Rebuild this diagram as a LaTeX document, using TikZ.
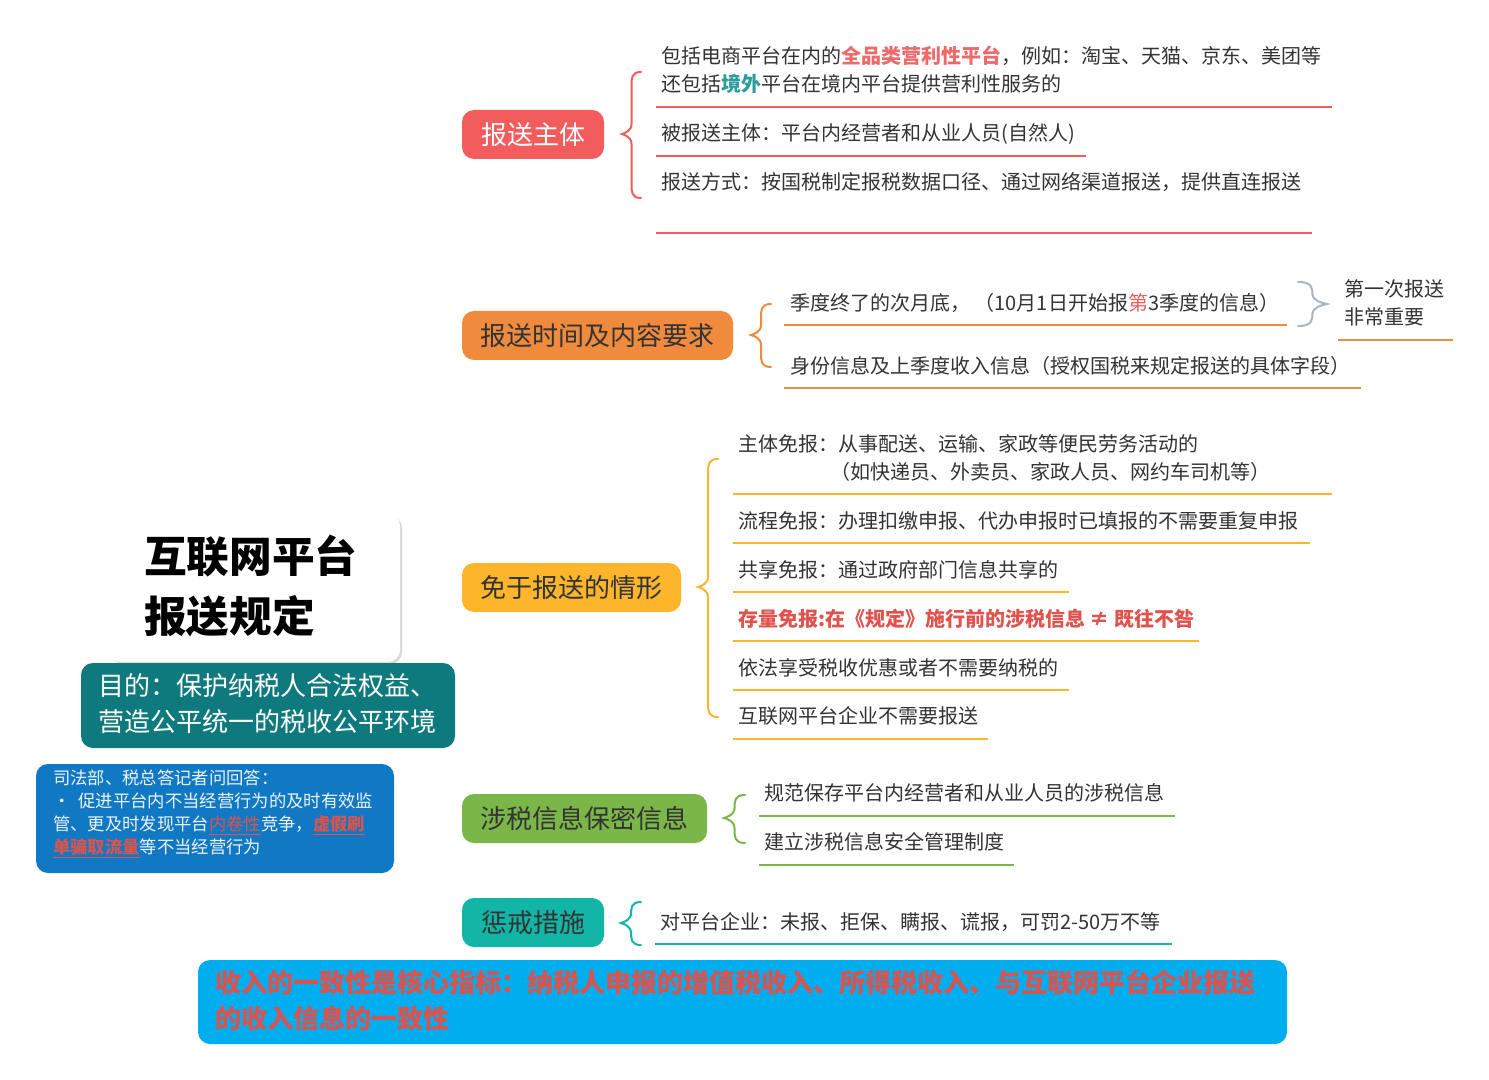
\documentclass[tikz,border=0pt]{standalone}
\usepackage{fontspec}
\setmainfont{Noto Sans CJK SC}
\usetikzlibrary{backgrounds,shadows}
\definecolor{cred}{HTML}{F25C5C}
\definecolor{corange}{HTML}{F08A3C}
\definecolor{cyellow}{HTML}{FDB52C}
\definecolor{cgreen}{HTML}{7AB648}
\definecolor{cteal}{HTML}{12B5A6}
\definecolor{cdeep}{HTML}{0F7A7D}
\definecolor{cblue}{HTML}{1179C4}
\definecolor{ccyan}{HTML}{00ADEF}
\definecolor{cgrey}{HTML}{A9B5C9}
\definecolor{ink}{HTML}{333333}
\definecolor{hired}{HTML}{EE6A6A}
\definecolor{hiteal}{HTML}{2E9C9C}
\definecolor{hidark}{HTML}{E0524D}
\definecolor{dull}{HTML}{D9534F}
\def\px{0.75pt}
\tikzset{
  branch/.style={rounded corners=9pt,inner sep=0pt,text=ink,font=\fontsize{19.5}{24}\selectfont},
  item/.style={anchor=west,inner sep=0pt,align=left,text=ink,font=\fontsize{15}{21}\selectfont},
  panel/.style={rounded corners=9pt,inner sep=0pt},
  conn/.style={line width=3pt,line cap=round},
  rule/.style={line width=2pt},
  curl/.style={line width=1.5pt,line cap=round}
}
% \ruleline{name}{x1}{x2}{y}{colour}
\newcommand{\ruleline}[5]{%
  \coordinate (#1a) at (#2,#4);
  \coordinate (#1b) at (#3,#4);
  \draw[rule,#5] (#1a) -- (#1b);}
% \curlybrace{name}{tip x}{end x}{top}{mid}{bottom}{colour}
\newcommand{\curlybrace}[7]{%
  \coordinate (#1t) at (#3,#4);
  \coordinate (#1m) at (#2,#5);
  \coordinate (#1b) at (#3,#6);
  \draw[curl,#7] (#1t) .. controls ($(#2,#4)!0.5!(#3,#4)$) and ($(#2,#4)!0.5!(#3,#4)+(0,6)$) .. ($(#2,#4)!0.5!(#3,#4)+(0,14)$)
    -- ($(#2,#5)!0.5!(#3,#5)+(0,-10)$) .. controls ($(#2,#5)!0.5!(#3,#5)+(0,-3)$) and ($(#2,#5)!0.15!(#3,#5)+(0,-1)$) .. (#1m)
    .. controls ($(#2,#5)!0.15!(#3,#5)+(0,1)$) and ($(#2,#5)!0.5!(#3,#5)+(0,3)$) .. ($(#2,#5)!0.5!(#3,#5)+(0,10)$)
    -- ($(#2,#6)!0.5!(#3,#6)+(0,-14)$) .. controls ($(#2,#6)!0.5!(#3,#6)+(0,-6)$) and ($(#2,#6)!0.5!(#3,#6)$) .. (#1b);}
\usetikzlibrary{calc}
\begin{document}
\begin{tikzpicture}[x=0.75pt,y=-0.75pt]
\useasboundingbox (0,0) rectangle (1489,1080);
\fill[white] (0,0) rectangle (1489,1080);

% root and side panels
\node[panel,fill=white,minimum width=291*\px,minimum height=148*\px,drop shadow={shadow xshift=1.5pt,shadow yshift=-1.5pt,fill=black!25,opacity=0.6}] (root) at (254.5,588) {};
\node[anchor=west,inner sep=0pt,align=left,text=black,font=\fontsize{32}{45}\selectfont\bfseries] (title) at (144,586) {互联网平台\\报送规定};
\coordinate (hub) at (417,586);

\node[panel,fill=cdeep,minimum width=374*\px,minimum height=85*\px] (purposebox) at (268,705.5) {};
\node[anchor=west,inner sep=0pt,align=left,text=white,font=\fontsize{19.5}{27}\selectfont] (purpose) at (98,704) {目的：保护纳税人合法权益、\\营造公平统一的税收公平环境};

\node[panel,fill=cblue,minimum width=358*\px,minimum height=109*\px] (notebox) at (215,818.5) {};
\node[anchor=west,inner sep=0pt,align=left,text=white!92!cblue,font=\fontsize{13}{17.25}\selectfont] (note) at (53,814) {司法部、税总答记者问回答：\\·\hspace{6pt}促进平台内不当经营行为的及时有效监\\管、更及时发现平台\textcolor{dull}{\underline{内卷性}}竞争，\textcolor{dull}{\underline{\textbf{虚假刷}}}\\\textcolor{dull}{\underline{\textbf{单骗取流量}}}等不当经营行为};

\node[panel,fill=ccyan,minimum width=1089*\px,minimum height=84*\px] (corebox) at (742.5,1002) {};
\node[anchor=west,inner sep=0pt,align=left,text=dull,font=\fontsize{19.5}{27}\selectfont\bfseries] (core) at (215,1000) {收入的一致性是核心指标：纳税人申报的增值税收入、所得税收入、与互联网平台企业报送\\的收入信息的一致性};

% branches
\node[branch,fill=cred,text=white,minimum width=142*\px,minimum height=49*\px] (b1) at (533,134.5) {报送主体};
\node[branch,fill=corange,minimum width=271*\px,minimum height=49*\px] (b2) at (597.5,335.5) {报送时间及内容要求};
\node[branch,fill=cyellow,minimum width=219*\px,minimum height=49*\px] (b3) at (571.5,587.5) {免于报送的情形};
\node[branch,fill=cgreen,minimum width=245*\px,minimum height=49*\px] (b4) at (584.5,818.5) {涉税信息保密信息};
\node[branch,fill=cteal,minimum width=142*\px,minimum height=49*\px] (b5) at (533,922.5) {惩戒措施};

% trunk connectors, behind the panels
\begin{pgfonlayer}{background}
\draw[conn,cred] (hub) .. controls (431,586) and (440,576) .. (440,562) -- (440,158) .. controls (440,143) and (449,134.5) .. (b1.west);
\draw[conn,cteal] (hub) .. controls (431,586) and (440,596) .. (440,610) -- (440,898) .. controls (440,913) and (449,922.5) .. (b5.west);
\end{pgfonlayer}

% red group
\curlybrace{c1}{622}{641}{72}{134}{198}{cred}
\node[item] (t11) at (661,70) {包括电商平台在内的\textcolor{hired}{\textbf{全品类营利性平台}}，例如：淘宝、天猫、京东、美团等\\还包括\textcolor{hiteal}{\textbf{境外}}平台在境内平台提供营利性服务的};
\ruleline{u11}{656}{1332}{107}{cred}
\node[item] (t12) at (661,134) {被报送主体：平台内经营者和从业人员(自然人)};
\ruleline{u12}{656}{1086}{156}{cred}
\node[item] (t13) at (661,182) {报送方式：按国税制定报税数据口径、通过网络渠道报送，提供直连报送};
\ruleline{u13}{656}{1312}{233}{cred}

% orange group
\curlybrace{c2}{751}{771}{304}{335}{367}{corange}
\node[item] (t21) at (790,303) {季度终了的次月底， （10月1日开始报\textcolor{cred}{第}3季度的信息）};
\ruleline{u21}{784}{1287}{325}{corange}
\node[item] (t22) at (790,366) {身份信息及上季度收入信息（授权国税来规定报送的具体字段）};
\ruleline{u22}{784}{1361}{388}{corange}
\curlybrace{c6}{1327}{1298}{282}{304}{326}{cgrey}
\node[item] (t23) at (1344,303) {第一次报送\\非常重要};
\ruleline{u23}{1338}{1453}{340}{corange}

% yellow group
\curlybrace{c3}{698}{718}{459}{587}{717}{cyellow}
\node[item] (t31) at (738,458) {主体免报：从事配送、运输、家政等便民劳务活动的\\\hspace*{69pt}（如快递员、外卖员、家政人员、网约车司机等）};
\ruleline{u31}{733}{1332}{494}{cyellow}
\node[item] (t32) at (738,521) {流程免报：办理扣缴申报、代办申报时已填报的不需要重复申报};
\ruleline{u32}{733}{1310}{543}{cyellow}
\node[item] (t33) at (738,570) {共享免报：通过政府部门信息共享的};
\ruleline{u33}{733}{1069}{592}{cyellow}
\node[item,text=hidark,font=\fontsize{15}{21}\selectfont\bfseries] (t34) at (738,619) {存量免报:在《规定》施行前的涉税信息 ≠ 既往不咎};
\ruleline{u34}{733}{1199}{641}{cyellow}
\node[item] (t35) at (738,668) {依法享受税收优惠或者不需要纳税的};
\ruleline{u35}{733}{1069}{690}{cyellow}
\node[item] (t36) at (738,716) {互联网平台企业不需要报送};
\ruleline{u36}{733}{988}{739}{cyellow}

% green group
\curlybrace{c4}{724}{745}{795}{818}{843}{cgreen}
\node[item] (t41) at (764,793) {规范保存平台内经营者和从业人员的涉税信息};
\ruleline{u41}{759}{1175}{816}{cgreen}
\node[item] (t42) at (764,842) {建立涉税信息安全管理制度};
\ruleline{u42}{759}{1014}{865}{cgreen}

% teal group
\curlybrace{c5}{621}{641}{902}{923}{945}{cteal}
\node[item] (t51) at (660,922) {对平台企业：未报、拒保、瞒报、谎报，可罚2-50万不等};
\ruleline{u51}{655}{1172}{944}{cteal}
\end{tikzpicture}
\end{document}
